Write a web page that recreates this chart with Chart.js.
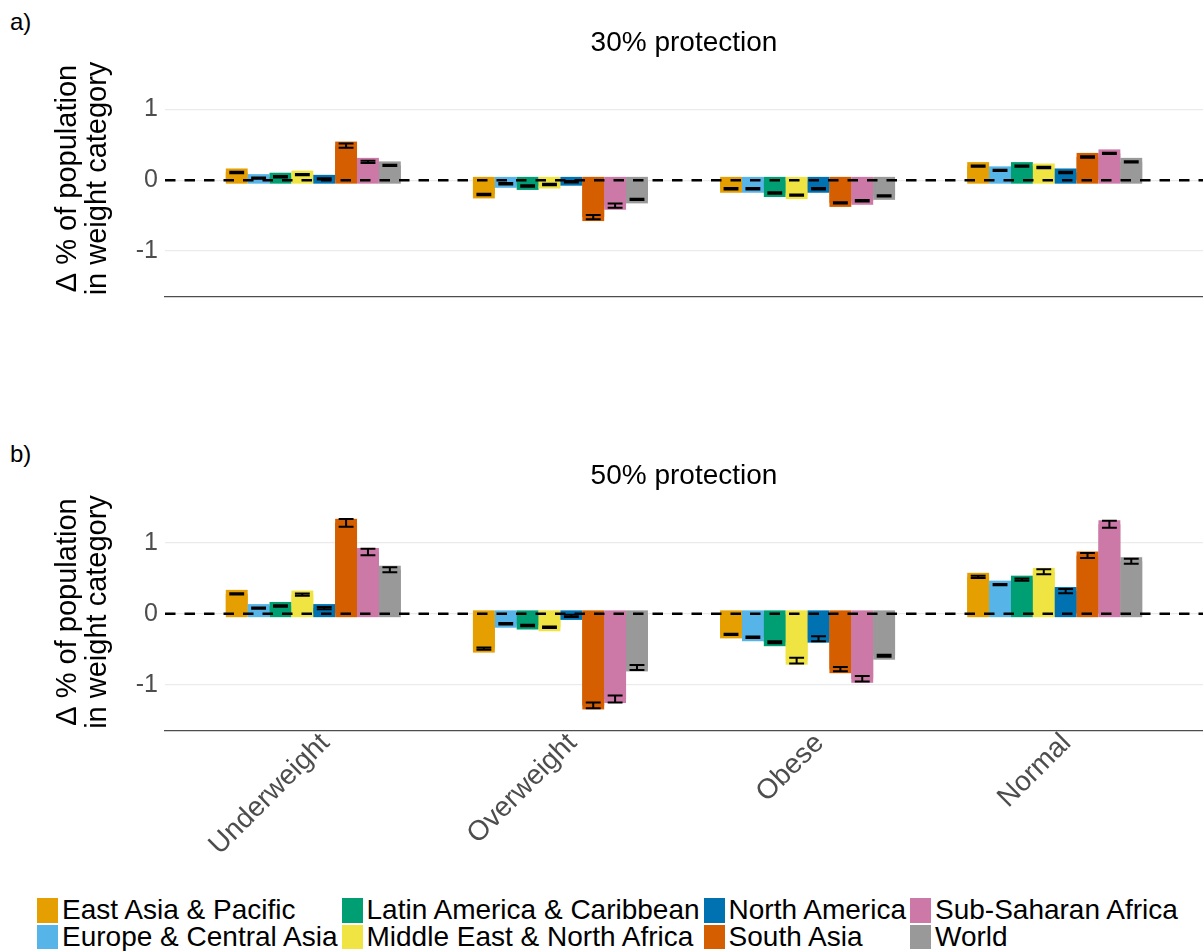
<!DOCTYPE html>
<html>
<head>
<meta charset="utf-8">
<script src="https://cdn.jsdelivr.net/npm/chart.js@4.4.1/dist/chart.umd.min.js"></script>
<style>
  html, body { margin: 0; padding: 0; background: #fff; }
  body { width: 1203px; height: 951px; position: relative; overflow: hidden;
         font-family: "Liberation Sans", Arial, sans-serif; }
  .panel-tag { position: absolute; left: 10px; font-size: 24px; line-height: 24px; color: #000; }
  canvas { position: absolute; left: 0; }
  #legend { position: absolute; left: 37px; top: 897px; display: grid; grid-auto-flow: column;
            grid-template-rows: 26.5px 26.5px; column-gap: 4px; font-size: 28px; line-height: 26px; color: #000; }
  .item { display: flex; align-items: center; white-space: nowrap; }
  .key { width: 21px; height: 24.5px; margin-right: 4px; flex: none; }
</style>
</head>
<body>
<div class="panel-tag" style="top:10px">a)</div>
<div class="panel-tag" style="top:442px">b)</div>
<canvas id="chartA" width="1203" height="330" style="top:0"></canvas>
<canvas id="chartB" width="1203" height="440" style="top:440px"></canvas>
<div id="legend"></div>
<script>
// Regions and weight categories
const regions = ['East Asia & Pacific', 'Europe & Central Asia', 'Latin America & Caribbean',
  'Middle East & North Africa', 'North America', 'South Asia', 'Sub-Saharan Africa', 'World'];
const regionColors = ['#E69F00', '#56B4E9', '#009E73', '#F0E442', '#0072B2', '#D55E00', '#CC79A7', '#999999'];
const weightCategories = ['Underweight', 'Overweight', 'Obese', 'Normal'];
const yTickValues = [-1, 0, 1];

// Change in % of population per region (order as in `regions`), 30% protection
const underweight30 = [0.11, 0.03, 0.05, 0.08, 0.02, 0.49, 0.26, 0.21];
const overweight30  = [-0.20, -0.05, -0.08, -0.06, -0.02, -0.52, -0.36, -0.27];
const obese30       = [-0.12, -0.12, -0.18, -0.21, -0.12, -0.32, -0.29, -0.22];
const normal30      = [0.20, 0.14, 0.20, 0.18, 0.11, 0.33, 0.38, 0.26];
// Uncertainty half-widths, 30% protection
const underweight30Err = [0.01, 0.01, 0.01, 0.01, 0.01, 0.03, 0.015, 0.01];
const overweight30Err  = [0.01, 0.01, 0.01, 0.01, 0.01, 0.03, 0.03, 0.01];
const obese30Err       = [0.01, 0.01, 0.01, 0.01, 0.01, 0.01, 0.01, 0.01];
const normal30Err      = [0.01, 0.01, 0.01, 0.01, 0.01, 0.01, 0.01, 0.01];

// Change in % of population per region, 50% protection
const underweight50 = [0.28, 0.08, 0.11, 0.27, 0.08, 1.28, 0.87, 0.62];
const overweight50  = [-0.49, -0.14, -0.165, -0.19, -0.03, -1.29, -1.20, -0.755];
const obese50       = [-0.29, -0.33, -0.40, -0.66, -0.35, -0.78, -0.915, -0.59];
const normal50      = [0.52, 0.41, 0.48, 0.59, 0.32, 0.82, 1.26, 0.74];
// Uncertainty half-widths, 50% protection
const underweight50Err = [0.01, 0.01, 0.01, 0.015, 0.015, 0.055, 0.045, 0.035];
const overweight50Err  = [0.015, 0.01, 0.01, 0.01, 0.015, 0.04, 0.05, 0.035];
const obese50Err       = [0.01, 0.01, 0.015, 0.04, 0.035, 0.03, 0.04, 0.015];
const normal50Err      = [0.015, 0.01, 0.015, 0.035, 0.03, 0.035, 0.05, 0.035];

Chart.defaults.font.family = '"Liberation Sans", Arial, sans-serif';

// Bars get a 4px cap beyond their value, then the dashed zero line and the error bars on top
const barDecor = {
  id: 'barDecor',
  afterDatasetsDraw(chart) {
    const ctx = chart.ctx;
    const ys = chart.scales.y;
    const area = chart.chartArea;
    const cap = 4;
    ctx.save();
    chart.data.datasets.forEach((ds, i) => {
      chart.getDatasetMeta(i).data.forEach(bar => {
        const p = bar.getProps(['x', 'y', 'base', 'width'], true);
        ctx.fillStyle = ds.backgroundColor;
        ctx.fillRect(p.x - p.width / 2, Math.min(p.y, p.base) - cap, p.width, Math.abs(p.base - p.y) + 2 * cap);
      });
    });
    const y0 = ys.getPixelForValue(0);
    ctx.setLineDash([10.5, 9]);
    ctx.lineWidth = 2.6;
    ctx.strokeStyle = '#000';
    ctx.beginPath();
    ctx.moveTo(area.left, y0);
    ctx.lineTo(area.right, y0);
    ctx.stroke();
    ctx.setLineDash([]);
    ctx.lineWidth = 2;
    chart.data.datasets.forEach((ds, i) => {
      chart.getDatasetMeta(i).data.forEach((bar, j) => {
        const v = ds.data[j].y, e = ds.err[j];
        const hi = ys.getPixelForValue(v + e), lo = ys.getPixelForValue(v - e);
        const half = bar.width * 0.34;
        ctx.beginPath();
        ctx.moveTo(bar.x - half, hi); ctx.lineTo(bar.x + half, hi);
        ctx.moveTo(bar.x, hi); ctx.lineTo(bar.x, lo);
        ctx.moveTo(bar.x - half, lo); ctx.lineTo(bar.x + half, lo);
        ctx.stroke();
      });
    });
    ctx.restore();
  }
};

function makePanel(canvasId, title, catValues, catErrors, showXLabels, titleTop, xAxisHeight) {
  const datasets = regions.map((name, r) => ({
    label: name,
    data: catValues.map((arr, c) => ({ x: c + 1, y: arr[r] })),
    err: catErrors.map(arr => arr[r]),
    backgroundColor: regionColors[r],
    borderWidth: 0,
    barPercentage: 1,
    categoryPercentage: 0.708
  }));
  return new Chart(document.getElementById(canvasId), {
    type: 'bar',
    data: { datasets },
    plugins: [barDecor],
    options: {
      responsive: false,
      animation: false,
      devicePixelRatio: 1,
      layout: { padding: 0 },
      plugins: {
        legend: { display: false },
        tooltip: { enabled: false },
        title: {
          display: true, text: title, fullSize: false, color: '#000',
          font: { size: 28, weight: 'normal', lineHeight: 1.2 },
          padding: { top: titleTop, bottom: 0 }
        }
      },
      scales: {
        x: {
          type: 'linear', min: 0.4, max: 4.6, offset: false,
          grid: { display: false, drawTicks: false },
          border: { display: true, color: '#4d4d4d', width: 1.3 },
          afterBuildTicks: s => { s.ticks = weightCategories.map((_, i) => ({ value: i + 1 })); },
          ticks: {
            display: showXLabels, autoSkip: false, minRotation: 45, maxRotation: 45,
            font: { size: 28 }, color: '#4d4d4d', padding: -4, labelOffset: 12,
            callback: v => weightCategories[Math.round(v) - 1]
          },
          afterFit: s => { s.height = xAxisHeight; }
        },
        y: {
          min: -1.65, max: 1.7,
          afterBuildTicks: s => { s.ticks = yTickValues.map(v => ({ value: v })); },
          grid: { color: '#ebebeb', lineWidth: 1.2, drawTicks: false },
          border: { display: false },
          ticks: { font: { size: 25 }, color: '#4d4d4d', padding: 7, callback: v => String(v) },
          title: {
            display: true, text: ['Δ % of population', 'in weight category'], color: '#000',
            font: { size: 29, lineHeight: 1.035 }, padding: { top: 53, bottom: 0 }
          },
          afterFit: s => { s.width = 165; }
        }
      }
    }
  });
}

makePanel('chartA', '30% protection',
  [underweight30, overweight30, obese30, normal30],
  [underweight30Err, overweight30Err, obese30Err, normal30Err], false, 26.4, 33);
makePanel('chartB', '50% protection',
  [underweight50, overweight50, obese50, normal50],
  [underweight50Err, overweight50Err, obese50Err, normal50Err], true, 19.4, 149);

// Legend: two rows, filled column by column
const legend = document.getElementById('legend');
regions.forEach((name, r) => {
  const item = document.createElement('div');
  item.className = 'item';
  const key = document.createElement('span');
  key.className = 'key';
  key.style.background = regionColors[r];
  const label = document.createElement('span');
  label.textContent = name;
  item.appendChild(key);
  item.appendChild(label);
  legend.appendChild(item);
});
</script>
</body>
</html>
